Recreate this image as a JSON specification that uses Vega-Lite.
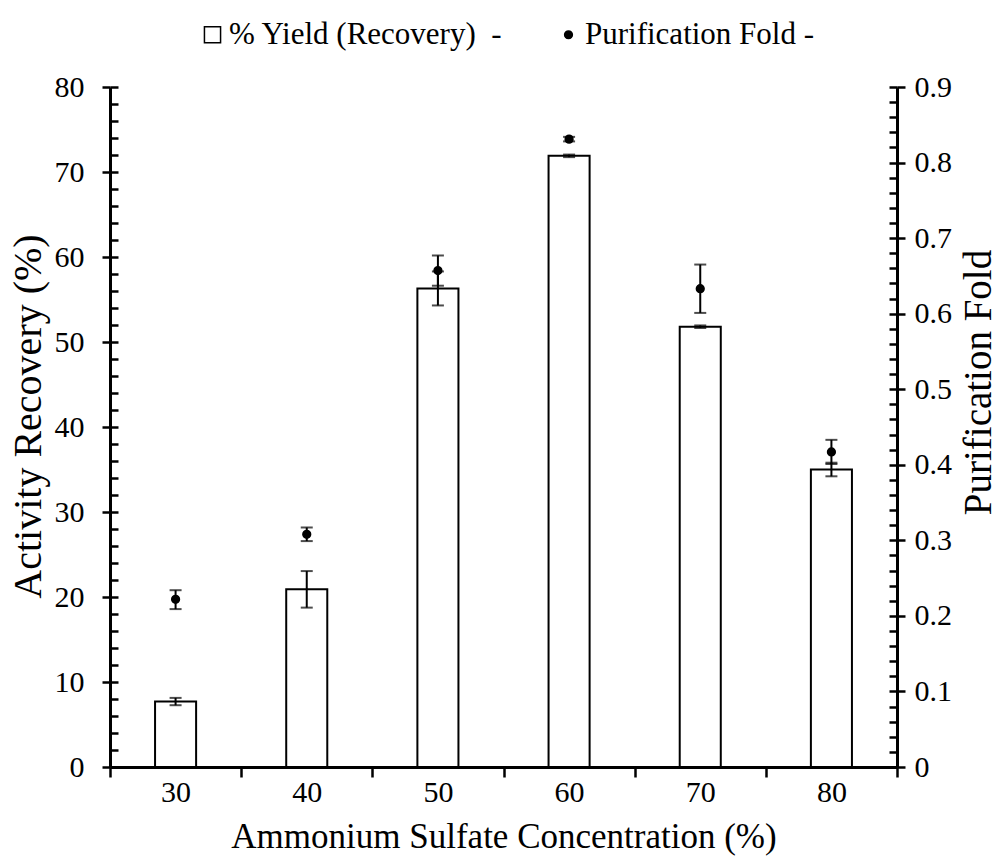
{
  "$schema": "https://vega.github.io/schema/vega-lite/v6.json",
  "width": 787,
  "height": 680,
  "autosize": {"type": "none"},
  "padding": {"left": 110, "top": 87, "right": 109, "bottom": 96},
  "background": "white",
  "config": {
    "font": "Liberation Serif",
    "view": {"stroke": null},
    "axis": {
      "grid": false,
      "labelFont": "Liberation Serif",
      "labelFontSize": 30,
      "labelColor": "black",
      "titleFont": "Liberation Serif",
      "titleFontSize": 35,
      "titleFontWeight": "normal",
      "titleColor": "black",
      "domainColor": "black",
      "domainWidth": 3,
      "tickColor": "black",
      "tickWidth": 2.5
    },
    "legend": {
      "labelFont": "Liberation Serif",
      "labelFontSize": 31,
      "labelColor": "black",
      "labelLimit": 0
    }
  },
  "data": {
    "values": [
      {"conc": "30", "yield": 7.7, "yieldLo": 7.27, "yieldHi": 8.13, "fold": 0.222, "foldLo": 0.209, "foldHi": 0.234},
      {"conc": "40", "yield": 20.9, "yieldLo": 18.75, "yieldHi": 23.05, "fold": 0.308, "foldLo": 0.299, "foldHi": 0.317},
      {"conc": "50", "yield": 56.3, "yieldLo": 54.3, "yieldHi": 58.3, "fold": 0.657, "foldLo": 0.637, "foldHi": 0.677},
      {"conc": "60", "yield": 71.9, "yieldLo": 71.75, "yieldHi": 72.05, "fold": 0.831, "foldLo": 0.828, "foldHi": 0.834},
      {"conc": "70", "yield": 51.8, "yieldLo": 51.65, "yieldHi": 51.95, "fold": 0.633, "foldLo": 0.601, "foldHi": 0.665},
      {"conc": "80", "yield": 35.0, "yieldLo": 34.2, "yieldHi": 35.8, "fold": 0.417, "foldLo": 0.401, "foldHi": 0.433}
    ]
  },
  "resolve": {"scale": {"y": "independent"}, "axis": {"x": "independent", "y": "independent"}},
  "layer": [
    {
      "mark": {"type": "bar", "fill": "white", "stroke": "black", "strokeWidth": 2, "width": {"band": 0.313}},
      "encoding": {
        "x": {
          "field": "conc", "type": "ordinal",
          "scale": {"paddingInner": 0, "paddingOuter": 0},
          "title": "Ammonium Sulfate Concentration (%)",
          "axis": {"orient": "bottom", "tickBand": "extent", "tickSize": 10, "labelAngle": 0, "labelPadding": 0, "titlePadding": 12}
        },
        "y": {
          "field": "yield", "type": "quantitative",
          "scale": {"domain": [0, 80], "nice": false},
          "title": "Activity Recovery (%)",
          "axis": {"orient": "left", "values": [0, 10, 20, 30, 40, 50, 60, 70, 80], "tickSize": 8, "labelPadding": 18, "titlePadding": 6, "titleFontSize": 40, "titleY": 329}
        }
      }
    },
    {
      "mark": {"type": "rule", "color": "black", "strokeWidth": 2},
      "encoding": {
        "x": {
          "field": "conc", "type": "ordinal",
          "scale": {"paddingInner": 0, "paddingOuter": 0},
          "axis": {"orient": "bottom", "labels": false, "domain": false, "title": null, "tickSize": 6, "offset": -6}
        },
        "y": {
          "field": "yieldLo", "type": "quantitative",
          "scale": {"domain": [0, 80], "nice": false},
          "axis": {"orient": "left", "values": [0, 2, 4, 6, 8, 10, 12, 14, 16, 18, 20, 22, 24, 26, 28, 30, 32, 34, 36, 38, 40, 42, 44, 46, 48, 50, 52, 54, 56, 58, 60, 62, 64, 66, 68, 70, 72, 74, 76, 78, 80], "tickSize": 8, "offset": -8, "labels": false, "domain": false, "title": null}
        },
        "y2": {"field": "yieldHi"}
      }
    },
    {
      "mark": {"type": "tick", "color": "black", "thickness": 2, "size": 12},
      "encoding": {
        "x": {"field": "conc", "type": "ordinal", "scale": {"paddingInner": 0, "paddingOuter": 0}, "axis": null},
        "y": {"field": "yieldLo", "type": "quantitative", "scale": {"domain": [0, 80], "nice": false}, "axis": null}
      }
    },
    {
      "mark": {"type": "tick", "color": "black", "thickness": 2, "size": 12},
      "encoding": {
        "x": {"field": "conc", "type": "ordinal", "scale": {"paddingInner": 0, "paddingOuter": 0}, "axis": null},
        "y": {"field": "yieldHi", "type": "quantitative", "scale": {"domain": [0, 80], "nice": false}, "axis": null}
      }
    },
    {
      "mark": {"type": "rule", "color": "black", "strokeWidth": 2},
      "encoding": {
        "x": {"field": "conc", "type": "ordinal", "scale": {"paddingInner": 0, "paddingOuter": 0}, "axis": null},
        "y": {
          "field": "foldLo", "type": "quantitative",
          "scale": {"domain": [0, 0.9], "nice": false},
          "axis": {"orient": "right", "values": [0, 0.02, 0.04, 0.06, 0.08, 0.1, 0.12, 0.14, 0.16, 0.18, 0.2, 0.22, 0.24, 0.26, 0.28, 0.3, 0.32, 0.34, 0.36, 0.38, 0.4, 0.42, 0.44, 0.46, 0.48, 0.5, 0.52, 0.54, 0.56, 0.58, 0.6, 0.62, 0.64, 0.66, 0.68, 0.7, 0.72, 0.74, 0.76, 0.78, 0.8, 0.82, 0.84, 0.86, 0.88, 0.9], "tickSize": 8, "offset": -8, "labels": false, "domain": false, "title": null}
        },
        "y2": {"field": "foldHi"}
      }
    },
    {
      "mark": {"type": "tick", "color": "black", "thickness": 2, "size": 12},
      "encoding": {
        "x": {"field": "conc", "type": "ordinal", "scale": {"paddingInner": 0, "paddingOuter": 0}, "axis": null},
        "y": {"field": "foldLo", "type": "quantitative", "scale": {"domain": [0, 0.9], "nice": false}, "axis": null}
      }
    },
    {
      "mark": {"type": "tick", "color": "black", "thickness": 2, "size": 12},
      "encoding": {
        "x": {"field": "conc", "type": "ordinal", "scale": {"paddingInner": 0, "paddingOuter": 0}, "axis": null},
        "y": {"field": "foldHi", "type": "quantitative", "scale": {"domain": [0, 0.9], "nice": false}, "axis": null}
      }
    },
    {
      "mark": {"type": "point", "filled": false, "opacity": 1, "stroke": "black", "strokeWidth": 1.5},
      "encoding": {
        "x": {"field": "conc", "type": "ordinal", "scale": {"paddingInner": 0, "paddingOuter": 0}, "axis": null},
        "y": {
          "field": "fold", "type": "quantitative",
          "scale": {"domain": [0, 0.9], "nice": false},
          "title": "Purification Fold",
          "axis": {"orient": "right", "values": [0, 0.1, 0.2, 0.3, 0.4, 0.5, 0.6, 0.7, 0.8, 0.9], "format": ".1~f", "tickSize": 8, "labelPadding": 9, "titlePadding": 8, "titleAngle": 270, "titleBaseline": "top", "titleFontSize": 39, "titleY": 295}
        },
        "fill": {
          "datum": "Purification Fold -", "type": "nominal",
          "scale": {"domain": ["% Yield (Recovery)\u00a0\u00a0-", "Purification Fold -"], "range": ["white", "black"]},
          "legend": {
            "orient": "none", "legendX": 87, "legendY": -68, "direction": "horizontal", "title": null,
            "labelOffset": 1, "columnPadding": 50,
            "symbolStrokeColor": "black", "symbolStrokeWidth": 1.5
          }
        },
        "shape": {
          "datum": "Purification Fold -", "type": "nominal",
          "scale": {"domain": ["% Yield (Recovery)\u00a0\u00a0-", "Purification Fold -"], "range": ["square", "circle"]}
        },
        "size": {
          "datum": "Purification Fold -", "type": "ordinal",
          "scale": {"domain": ["% Yield (Recovery)\u00a0\u00a0-", "Purification Fold -"], "range": [260, 60]}
        }
      }
    }
  ]
}
